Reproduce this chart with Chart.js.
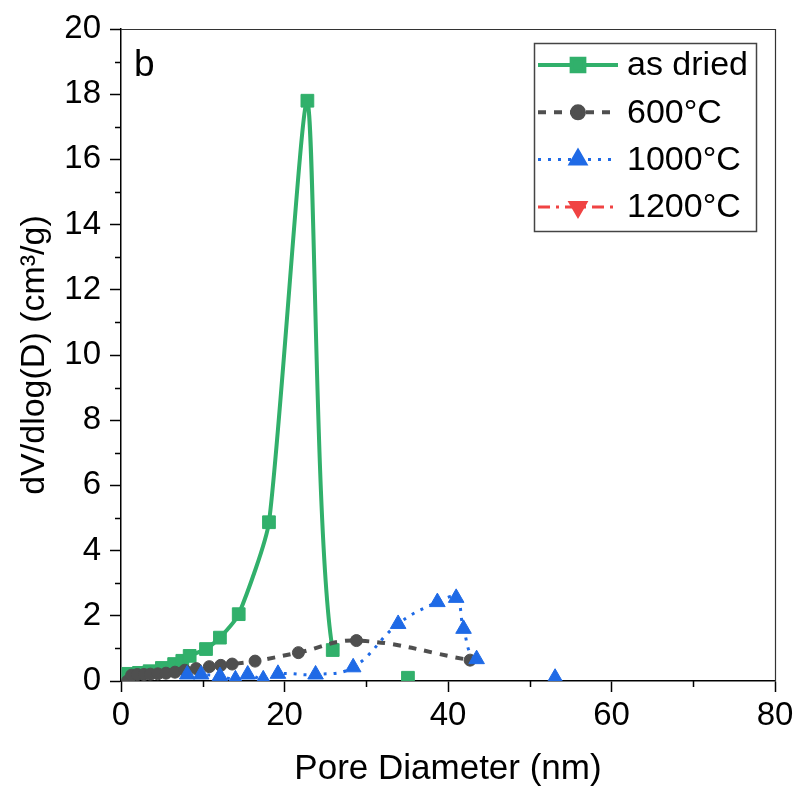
<!DOCTYPE html>
<html>
<head>
<meta charset="utf-8">
<script src="https://cdn.jsdelivr.net/npm/chart.js@4/dist/chart.umd.min.js"></script>
<style>
  body { margin: 0; background: #fff; }
  #wrap { width: 806px; height: 790px; }
</style>
</head>
<body>
<div id="wrap"><canvas id="chart" width="806" height="790"></canvas></div>
<script>
// pore diameter (nm) and dV/dlog(D)
const asDriedX = [0.9, 2.2, 3.5, 5.0, 6.5, 7.5, 8.4, 10.4, 12.1, 14.4, 18.1, 22.8, 25.9, 35.1];
const asDriedY = [0.22, 0.25, 0.3, 0.4, 0.52, 0.62, 0.77, 0.98, 1.33, 2.05, 4.87, 17.8, 0.95, 0.1];

const c600X = [0.8, 1.3, 2.0, 2.8, 3.6, 4.5, 5.5, 6.6, 7.8, 9.2, 10.8, 12.2, 13.6, 16.4, 21.7, 28.8, 42.7];
const c600Y = [0.0, 0.18, 0.2, 0.2, 0.21, 0.22, 0.24, 0.27, 0.33, 0.38, 0.44, 0.48, 0.52, 0.61, 0.87, 1.24, 0.64];

const c1000X = [8.1, 9.8, 12.1, 14.0, 15.5, 17.4, 19.2, 23.8, 28.4, 33.9, 38.7, 41.0, 41.9, 43.5, 53.1];
const c1000Y = [0.2, 0.2, 0.15, 0.05, 0.2, 0.05, 0.22, 0.2, 0.42, 1.75, 2.42, 2.55, 1.6, 0.67, 0.1];

// 1200°C curve is not visible in the plot, only in the legend
const c1200X = [];
const c1200Y = [];

const seriesNames = ["as dried", "600°C", "1000°C", "1200°C"];
const xTicks = [0, 20, 40, 60, 80];
const yTicks = [0, 2, 4, 6, 8, 10, 12, 14, 16, 18, 20];

const FONT = "'Liberation Sans', Arial, sans-serif";

function pts(xs, ys) {
  return xs.map((x, i) => ({ x: x, y: ys[i] }));
}

// the original spline dips under the axis between far apart points near zero,
// so that stretch of line is not seen
const hideBaseline = {
  borderColor: (c) =>
    c.p1.parsed.x - c.p0.parsed.x > 8 && c.p1.parsed.y < 0.3 ? "rgba(0,0,0,0)" : undefined
};

// minor ticks, top/right frame, panel letter and the boxed legend
const extras = {
  id: "extras",
  afterDraw(chart) {
    const ctx = chart.ctx;
    const a = chart.chartArea;
    const xs = chart.scales.x, ys = chart.scales.y;
    ctx.save();
    ctx.strokeStyle = "#000";
    ctx.lineWidth = 1.5;
    ctx.beginPath();
    for (let v = 1; v < 20; v += 2) {
      const py = Math.round(ys.getPixelForValue(v)) + 0.5;
      ctx.moveTo(a.left - 6, py);
      ctx.lineTo(a.left, py);
    }
    for (let v = 10; v < 80; v += 20) {
      const px = Math.round(xs.getPixelForValue(v)) + 0.5;
      ctx.moveTo(px, a.bottom);
      ctx.lineTo(px, a.bottom + 6);
    }
    ctx.stroke();

    // frame
    ctx.strokeStyle = "#333";
    ctx.lineWidth = 1.2;
    ctx.beginPath();
    ctx.moveTo(a.left, a.top + 0.5);
    ctx.lineTo(a.right + 0.5, a.top + 0.5);
    ctx.lineTo(a.right + 0.5, a.bottom);
    ctx.stroke();

    // panel letter
    ctx.fillStyle = "#000";
    ctx.font = "37px " + FONT;
    ctx.textBaseline = "alphabetic";
    ctx.fillText("b", 134, 76);

    // legend
    const bx = 534.5, by = 43.5, bw = 222, bh = 188;
    ctx.strokeStyle = "#444";
    ctx.lineWidth = 1.5;
    ctx.strokeRect(bx, by, bw, bh);
    chart.data.datasets.forEach((ds, i) => {
      const y = 65 + i * 47.3;
      ctx.save();
      ctx.strokeStyle = ds.borderColor;
      ctx.lineWidth = ds.borderWidth;
      ctx.setLineDash(ds.borderDash || []);
      ctx.beginPath();
      ctx.moveTo(538, y);
      ctx.lineTo(618, y);
      ctx.stroke();
      ctx.setLineDash([]);
      ctx.fillStyle = ds.pointBackgroundColor;
      ctx.strokeStyle = ds.pointBorderColor;
      Chart.helpers.drawPoint(ctx, {
        pointStyle: ds.pointStyle,
        rotation: ds.pointRotation || 0,
        radius: ds.pointRadius,
        borderWidth: 1
      }, 578, y);
      ctx.restore();
      ctx.fillStyle = "#000";
      ctx.font = "34px " + FONT;
      ctx.textBaseline = "middle";
      ctx.fillText(seriesNames[i], 627, y + 1);
    });
    ctx.restore();
  }
};

function series(i, xs, ys, color, dash, width, style, radius, rot, order, tension) {
  return {
    label: seriesNames[i],
    data: pts(xs, ys),
    borderColor: color,
    backgroundColor: color,
    borderWidth: width,
    borderDash: dash,
    pointStyle: style,
    pointRotation: rot,
    pointRadius: radius,
    pointHoverRadius: radius,
    pointBackgroundColor: color,
    pointBorderColor: color,
    pointBorderWidth: 1,
    tension: tension,
    order: order
  };
}

const asDried = series(0, asDriedX, asDriedY, "#31b06b", [], 4, "rect", 9, 0, 3, 0.2);
asDried.segment = hideBaseline;
const c1000 = series(2, c1000X, c1000Y, "#1f6ae6", [3, 7], 3, "triangle", 9, 0, 1, 0.4);
c1000.segment = hideBaseline;

new Chart(document.getElementById("chart"), {
  type: "line",
  data: {
    datasets: [
      asDried,
      series(1, c600X, c600Y, "#4f4f4f", [8, 8], 4, "circle", 6, 0, 2, 0.4),
      c1000,
      series(3, c1200X, c1200Y, "#f04343", [12, 6, 3, 6], 3, "triangle", 9, 180, 0, 0.4)
    ]
  },
  options: {
    responsive: false,
    animation: false,
    layout: { padding: { left: 0, top: 29, right: 31, bottom: 0 } },
    plugins: {
      legend: { display: false },
      tooltip: { enabled: false }
    },
    scales: {
      x: {
        type: "linear",
        min: 0,
        max: 80,
        afterFit: (s) => { s.height = 109; },
        afterBuildTicks: (s) => { s.ticks = xTicks.map((v) => ({ value: v })); },
        ticks: { color: "#000", font: { family: FONT, size: 33 }, padding: 4, maxRotation: 0 },
        grid: { drawOnChartArea: false, drawTicks: true, tickLength: 11, tickColor: "#000", tickWidth: 1.5 },
        border: { display: true, color: "#000", width: 1.5 },
        title: {
          display: true,
          text: "Pore Diameter (nm)",
          color: "#000",
          font: { family: FONT, size: 35 },
          padding: { top: 0, bottom: 0 }
        }
      },
      y: {
        type: "linear",
        min: 0,
        max: 20,
        afterFit: (s) => { s.width = 121; },
        afterBuildTicks: (s) => { s.ticks = yTicks.map((v) => ({ value: v })); },
        ticks: { color: "#000", font: { family: FONT, size: 33 }, padding: 9 },
        grid: { drawOnChartArea: false, drawTicks: true, tickLength: 11, tickColor: "#000", tickWidth: 1.5 },
        border: { display: true, color: "#000", width: 1.5 },
        title: {
          display: true,
          text: "dV/dlog(D) (cm³/g)",
          color: "#000",
          font: { family: FONT, size: 34 },
          padding: { top: 14, bottom: 0 }
        }
      }
    }
  },
  plugins: [extras]
});
</script>
</body>
</html>
